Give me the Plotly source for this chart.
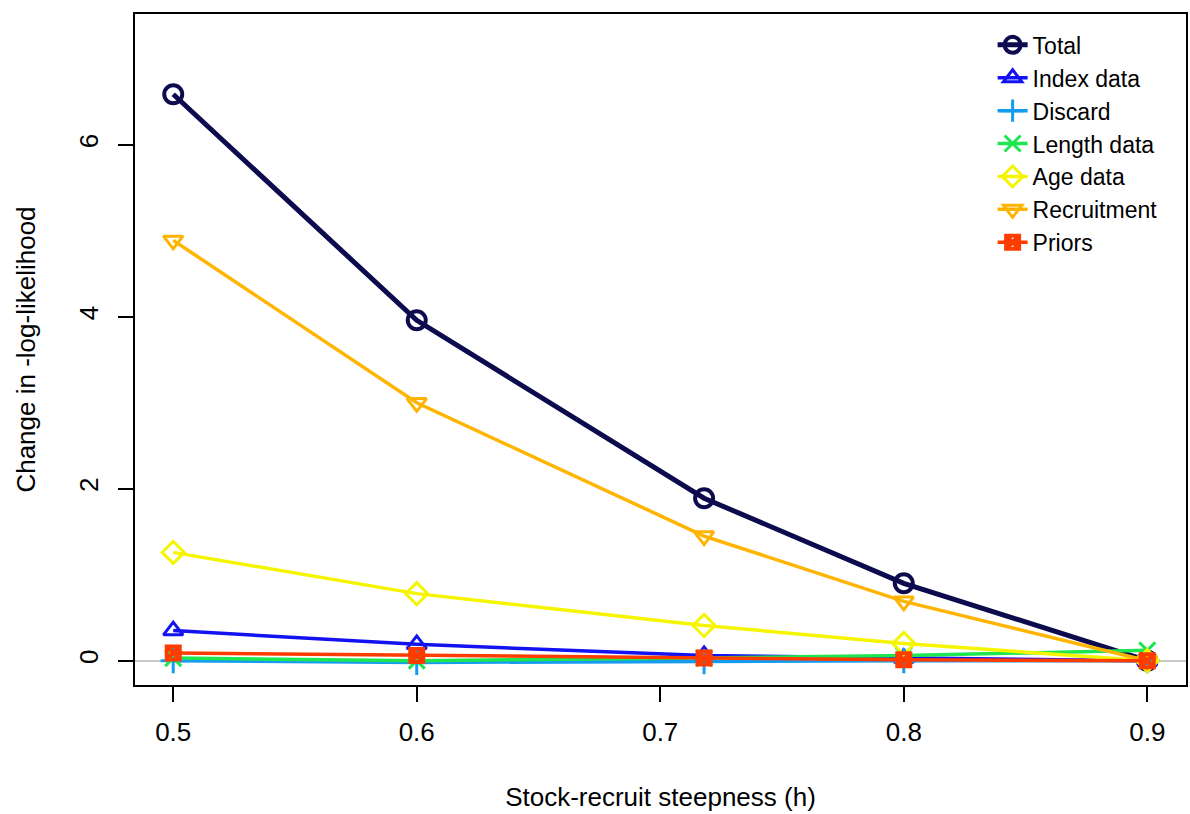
import plotly.graph_objects as go

steepness = [0.5, 0.6, 0.718, 0.8, 0.9]

series_names = ["Total", "Index data", "Discard", "Length data", "Age data", "Recruitment", "Priors"]
total = [6.59, 3.96, 1.89, 0.90, 0.0]
index_data = [0.35, 0.19, 0.06, 0.03, 0.0]
discard = [0.0, -0.02, -0.01, 0.0, 0.0]
length_data = [0.03, 0.0, 0.03, 0.06, 0.12]
age_data = [1.26, 0.78, 0.41, 0.20, 0.0]
recruitment = [4.89, 3.00, 1.45, 0.69, 0.0]
priors = [0.09, 0.06, 0.03, 0.01, 0.0]

x_ticks = [0.5, 0.6, 0.7, 0.8, 0.9]
y_ticks = [0, 2, 4, 6]

series_values = [total, index_data, discard, length_data, age_data, recruitment, priors]
colors = ["#0B0B4E", "#1212F2", "#159CF0", "#1EE650", "#F5F500", "#FFB400", "#FF3C00"]
symbols = ["circle-open", "triangle-up-open", "cross-thin-open", "x-thin-open",
           "diamond-open", "triangle-down-open", "square-x-open"]
line_widths = [5, 3.5, 3.5, 3.5, 3.5, 3.5, 3.5]
marker_sizes = [18, 17, 18, 16, 17, 17, 13]
marker_line_widths = [4, 3, 3, 3, 3, 3, 4]

FONT = "Liberation Sans, Arial, sans-serif"

fig = go.Figure()
for i, name in enumerate(series_names):
    fig.add_trace(go.Scatter(
        x=steepness, y=series_values[i], name=name, mode="lines+markers",
        legendgroup=name,
        line=dict(color=colors[i], width=line_widths[i]),
        marker=dict(symbol=symbols[i], size=marker_sizes[i], color=colors[i],
                    line=dict(color=colors[i], width=marker_line_widths[i])),
    ))

fig.update_layout(
    width=1190, height=814,
    paper_bgcolor="white", plot_bgcolor="white",
    margin=dict(l=135, r=2, t=14, b=129),
    font=dict(family=FONT, size=26, color="black"),
    showlegend=True,
    legend=dict(x=0.816, y=0.986, xanchor="left", yanchor="top",
                bgcolor="rgba(255,255,255,0)", borderwidth=0,
                font=dict(family=FONT, size=23, color="black"),
                tracegroupgap=0),
    xaxis=dict(range=[0.4843, 0.9159], tickvals=x_ticks,
               ticktext=[f"{v:.1f}" for v in x_ticks],
               showgrid=False, zeroline=False,
               showline=True, linecolor="black", linewidth=2, mirror=True,
               ticks="outside", ticklen=15, tickwidth=2, tickcolor="black",
               ticklabelstandoff=8,
               tickfont=dict(family=FONT, size=26),
               title=dict(text="Stock-recruit steepness (h)", standoff=42,
                          font=dict(family=FONT, size=26))),
    yaxis=dict(range=[-0.283, 7.524], tickvals=y_ticks,
               ticktext=[str(v) for v in y_ticks],
               showgrid=False,
               zeroline=True, zerolinecolor="#C8C8C8", zerolinewidth=2,
               showline=True, linecolor="black", linewidth=2, mirror=True,
               ticks="outside", ticklen=15, tickwidth=2, tickcolor="black",
               tickangle=-90, ticklabelstandoff=10,
               tickfont=dict(family=FONT, size=26),
               title=dict(text="Change in -log-likelihood", standoff=30,
                          font=dict(family=FONT, size=26))),
)

fig.write_html("out.html", config={"displayModeBar": False},
               post_script="document.body.style.margin='0';")
